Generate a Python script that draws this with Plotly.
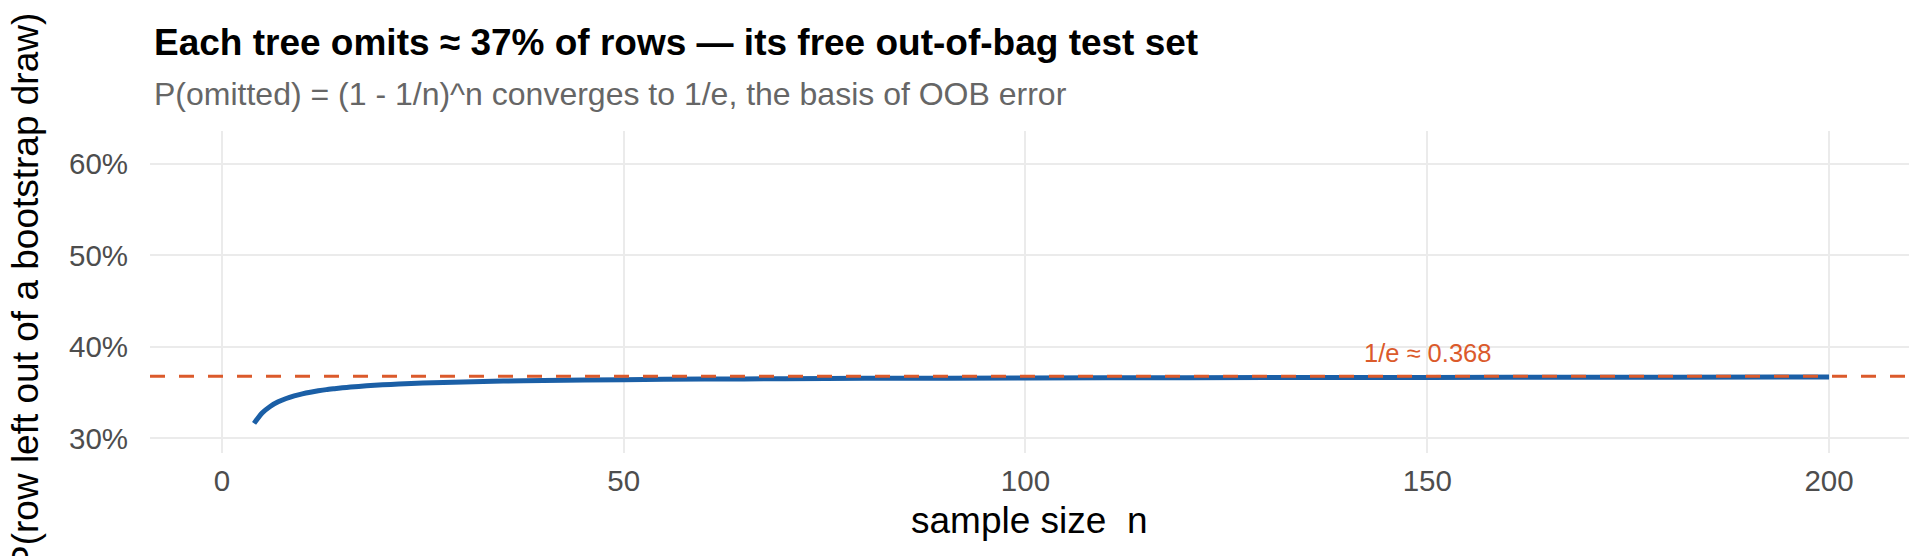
import plotly.graph_objects as go

# ---- data ----
n_values = [4, 5, 6, 7, 8, 9, 10, 11, 12, 13, 14, 15, 16, 18, 20, 22, 25, 30, 35, 40,
            50, 60, 70, 80, 100, 120, 140, 160, 180, 200]
p_omitted = [0.3164, 0.3277, 0.3349, 0.3399, 0.3436, 0.3464, 0.3487, 0.3505, 0.3520,
             0.3533, 0.3543, 0.3553, 0.3561, 0.3574, 0.3585, 0.3594, 0.3604, 0.3617,
             0.3626, 0.3632, 0.3642, 0.3648, 0.3652, 0.3656, 0.3660, 0.3663, 0.3666,
             0.3667, 0.3669, 0.3670]
inv_e = 0.3679
annot_label = "1/e ≈ 0.368"
annot_x = 150
annot_y = 0.393

x_tick_vals = [0, 50, 100, 150, 200]
x_tick_text = ["0", "50", "100", "150", "200"]
y_tick_vals = [0.3, 0.4, 0.5, 0.6]
y_tick_text = ["30%", "40%", "50%", "60%"]

title_text = "Each tree omits ≈ 37% of rows — its free out-of-bag test set"
subtitle_text = "P(omitted) = (1 - 1/n)^n converges to 1/e, the basis of OOB error"
x_title = "sample size\u00a0 n"
y_title = "P(row left out of a bootstrap draw)"

FONT = "Liberation Sans, Arial, Helvetica, sans-serif"
BLUE = "#1b5fa6"
ORANGE = "#db5a2b"
GRID = "#ebebeb"

W, H = 1920, 556
ML, MR, MT, MB = 142, 19, 123, 111
PW = W - ML - MR
PH = H - MT - MB


def py(y_px):
    return (H - MB - y_px) / PH


def px(x_px):
    return (x_px - ML) / PW


fig = go.Figure()
fig.add_trace(go.Scatter(
    x=n_values, y=p_omitted, mode="lines",
    line=dict(color=BLUE, width=5, shape="spline", smoothing=0.6),
    hoverinfo="skip", showlegend=False,
))
fig.add_trace(go.Scatter(
    x=[-8.95, 209.95], y=[inv_e, inv_e], mode="lines",
    line=dict(color=ORANGE, width=3, dash="15px,14px"),
    hoverinfo="skip", showlegend=False,
))

fig.update_layout(
    width=W, height=H,
    margin=dict(l=ML, r=MR, t=MT, b=MB),
    paper_bgcolor="white", plot_bgcolor="white",
    font=dict(family=FONT, color="#4d4d4d"),
    showlegend=False,
    xaxis=dict(
        range=[-8.95, 209.95], tickvals=x_tick_vals, ticktext=x_tick_text,
        showgrid=True, gridcolor=GRID, gridwidth=2, zeroline=False,
        showline=False, ticks="outside", ticklen=2, tickcolor="rgba(0,0,0,0)",
        tickfont=dict(size=29.5, color="#4d4d4d", family=FONT),
    ),
    yaxis=dict(
        range=[0.284, 0.636], tickvals=y_tick_vals, ticktext=y_tick_text,
        showgrid=True, gridcolor=GRID, gridwidth=2, zeroline=False,
        showline=False, ticks="outside", ticklen=15, tickcolor="rgba(0,0,0,0)",
        tickfont=dict(size=29.5, color="#4d4d4d", family=FONT),
    ),
    annotations=[
        dict(text=f"<b>{title_text}</b>", xref="paper", yref="paper",
             x=px(144), y=py(34), xanchor="left", yanchor="middle",
             showarrow=False, font=dict(size=37, color="black", family=FONT)),
        dict(text=subtitle_text, xref="paper", yref="paper",
             x=px(144), y=py(86), xanchor="left", yanchor="middle",
             showarrow=False, font=dict(size=32, color="#666666", family=FONT)),
        dict(text=x_title, xref="paper", yref="paper",
             x=0.5, y=py(512), xanchor="center", yanchor="middle",
             showarrow=False, font=dict(size=37, color="black", family=FONT)),
        dict(text=y_title, xref="paper", yref="paper", textangle=-90,
             x=px(17), y=0.5, xanchor="center", yanchor="middle",
             showarrow=False, font=dict(size=37, color="black", family=FONT)),
        dict(text=annot_label, xref="x", yref="y", x=annot_x, y=annot_y,
             xanchor="center", yanchor="middle", showarrow=False,
             font=dict(size=25.5, color=ORANGE, family=FONT)),
    ],
)

fig.write_html("out.html")
